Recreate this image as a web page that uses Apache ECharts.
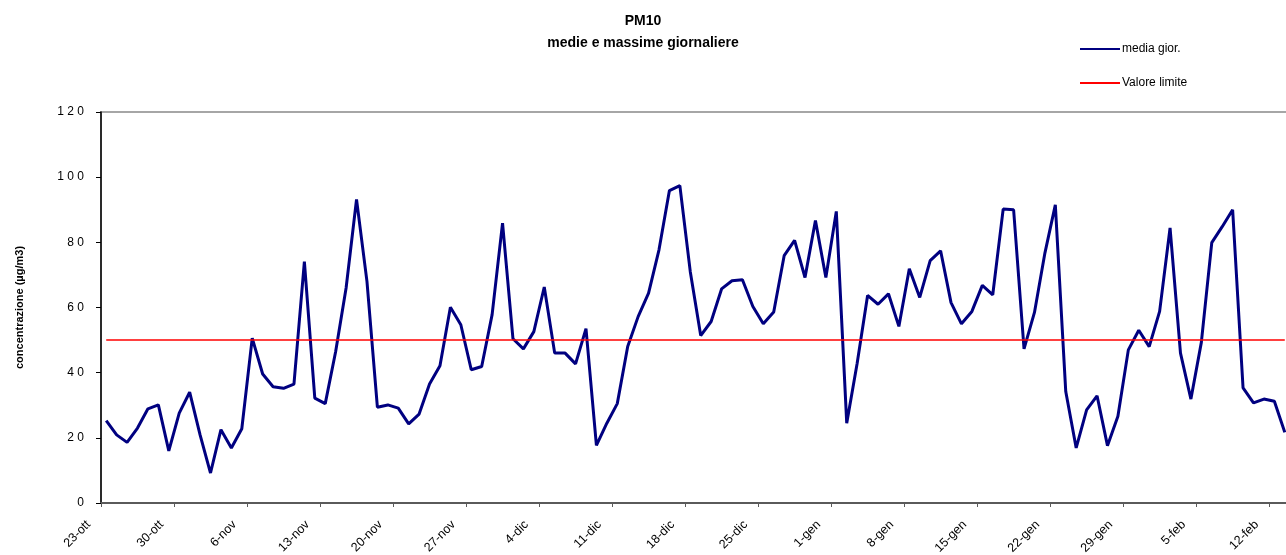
<!DOCTYPE html>
<html>
<head>
<meta charset="utf-8">
<script src="https://cdn.jsdelivr.net/npm/echarts@6/dist/echarts.min.js"></script>
<style>
html,body{margin:0;padding:0;background:#fff;}
#chart{width:1286px;height:555px;}
</style>
</head>
<body>
<div id="chart"></div>
<script>
const categories = [
  "23-ott","24-ott","25-ott","26-ott","27-ott","28-ott","29-ott","30-ott","31-ott",
  "1-nov","2-nov","3-nov","4-nov","5-nov","6-nov","7-nov","8-nov","9-nov","10-nov",
  "11-nov","12-nov","13-nov","14-nov","15-nov","16-nov","17-nov","18-nov","19-nov","20-nov",
  "21-nov","22-nov","23-nov","24-nov","25-nov","26-nov","27-nov","28-nov","29-nov","30-nov",
  "1-dic","2-dic","3-dic","4-dic","5-dic","6-dic","7-dic","8-dic","9-dic","10-dic",
  "11-dic","12-dic","13-dic","14-dic","15-dic","16-dic","17-dic","18-dic","19-dic","20-dic",
  "21-dic","22-dic","23-dic","24-dic","25-dic","26-dic","27-dic","28-dic","29-dic","30-dic","31-dic",
  "1-gen","2-gen","3-gen","4-gen","5-gen","6-gen","7-gen","8-gen","9-gen","10-gen",
  "11-gen","12-gen","13-gen","14-gen","15-gen","16-gen","17-gen","18-gen","19-gen","20-gen",
  "21-gen","22-gen","23-gen","24-gen","25-gen","26-gen","27-gen","28-gen","29-gen","30-gen","31-gen",
  "1-feb","2-feb","3-feb","4-feb","5-feb","6-feb","7-feb","8-feb","9-feb","10-feb",
  "11-feb","12-feb","13-feb"
];

const mediaGior = [
  25.3, 20.9, 18.6, 23.0, 28.9, 30.1, 16.0, 27.6, 34.0, 20.9,
  9.2, 22.5, 16.9, 22.8, 50.6, 39.6, 35.7, 35.2, 36.5, 74.1,
  32.2, 30.5, 46.5, 66.0, 93.2, 68.0, 29.4, 30.1, 29.1, 24.3,
  27.3, 36.5, 42.1, 60.1, 54.7, 40.9, 41.9, 57.8, 85.9, 50.4,
  47.3, 52.6, 66.3, 46.0, 46.0, 42.7, 53.5, 17.7, 24.5, 30.5,
  48.0, 57.2, 64.4, 77.7, 95.9, 97.4, 71.0, 51.4, 55.7, 65.7,
  68.2, 68.5, 60.3, 55.0, 58.6, 75.9, 80.6, 69.2, 86.7, 69.2,
  89.5, 24.5, 42.9, 63.7, 61.0, 64.2, 54.2, 71.9, 63.1, 74.4,
  77.4, 61.5, 55.0, 58.8, 66.8, 63.9, 90.2, 90.0, 47.3, 58.5,
  76.7, 91.5, 34.2, 16.9, 28.6, 32.9, 17.6, 26.6, 47.0, 53.0,
  48.0, 58.8, 84.4, 46.0, 31.9, 49.3, 79.9, 84.8, 90.0, 35.3,
  30.7, 31.9, 31.2, 21.7
];

const limitValue = 50;
const yTicks = { min: 0, max: 120, interval: 20 };

const chart = echarts.init(document.getElementById('chart'), null, { renderer: 'canvas' });
const font = 'Liberation Sans, Arial, sans-serif';

chart.setOption({
  animation: false,
  backgroundColor: '#ffffff',
  textStyle: { fontFamily: font },
  title: {
    text: 'PM10\nmedie e massime giornaliere',
    left: 'center',
    top: 5,
    textStyle: { fontFamily: font, fontSize: 14, fontWeight: 'bold', color: '#000', lineHeight: 22 }
  },
  legend: {
    orient: 'vertical',
    left: 1079,
    top: 43,
    padding: 0,
    itemWidth: 40,
    itemHeight: 14,
    itemGap: 22,
    itemStyle: { opacity: 0 },
    textStyle: { fontFamily: font, fontSize: 12, color: '#000', padding: [0, 0, 0, -3] },
    data: ['media gior.', 'Valore limite']
  },
  grid: {
    left: 101,
    top: 112,
    width: 1189,
    bottom: 52,
    show: true,
    borderColor: '#a6a6a6',
    borderWidth: 2,
    containLabel: false,
    outerBoundsMode: 'none'
  },
  xAxis: {
    type: 'category',
    data: categories,
    boundaryGap: true,
    axisLine: { lineStyle: { color: '#5a5a5a', width: 2 } },
    axisTick: { show: true, interval: 6, length: 4, lineStyle: { color: '#5a5a5a', width: 1 } },
    axisLabel: { interval: 6, rotate: 45, fontSize: 12.5, color: '#000', fontFamily: font,
      margin: 2, padding: [0, 25, 0, 0] },
    splitLine: { show: false }
  },
  yAxis: {
    type: 'value',
    min: yTicks.min,
    max: yTicks.max,
    interval: yTicks.interval,
    name: 'concentrazione (µg/m3)',
    nameLocation: 'middle',
    nameGap: 76,
    nameTextStyle: { fontFamily: font, fontSize: 11, fontWeight: 'bold', color: '#000' },
    axisLine: { show: true, lineStyle: { color: '#000', width: 1.5 } },
    axisTick: { show: true, inside: false, length: 5, lineStyle: { color: '#000' } },
    axisLabel: { fontSize: 12, color: '#000', margin: 17, fontFamily: font,
      formatter: v => String(v).split('').join(' ') },
    splitLine: { show: false }
  },
  series: [
    {
      name: 'media gior.',
      type: 'line',
      data: mediaGior,
      symbol: 'none',
      color: '#000080',
      lineStyle: { color: '#000080', width: 3 },
      z: 3
    },
    {
      name: 'Valore limite',
      type: 'line',
      data: [],
      symbol: 'none',
      color: '#ff0000',
      lineStyle: { color: '#ff0000', width: 1.5 },
      z: 2,
      markLine: {
        silent: true,
        symbol: 'none',
        label: { show: false },
        lineStyle: { color: '#ff0000', width: 1.5, type: 'solid' },
        data: [[
          { coord: [categories[0], limitValue] },
          { coord: [categories[categories.length - 1], limitValue] }
        ]]
      }
    }
  ]
});
</script>
</body>
</html>
